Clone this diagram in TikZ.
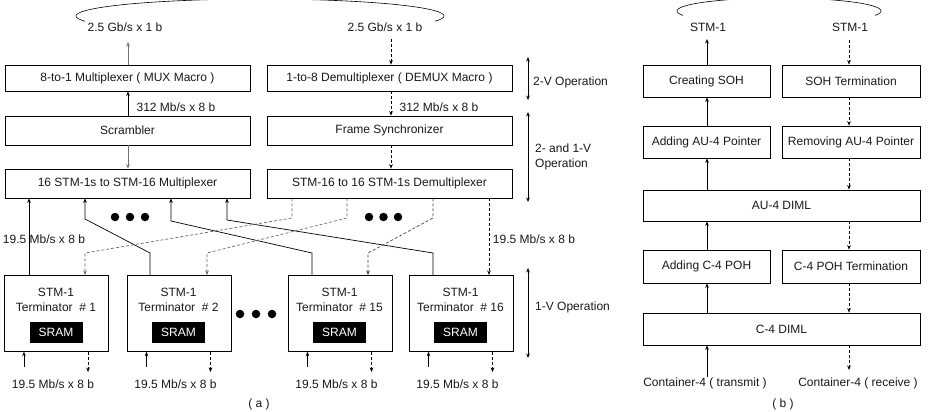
\documentclass[tikz,border=0pt]{standalone}
\usepackage{fontspec}
\setmainfont{Liberation Sans}
\usetikzlibrary{arrows.meta}
\newcommand\figfont{\fontsize{12}{15}\selectfont}
\begin{document}
\begin{tikzpicture}[x=1pt,y=-1pt,
  box/.style={draw, line width=0.7pt, inner sep=0pt, font=\figfont, text=black!90},
  lab/.style={font=\figfont, inner sep=0pt, text=black!90},
  sarr/.style={line width=0.7pt, -{Stealth[length=4.5pt,width=3.6pt]}},
  darr/.style={sarr, dash pattern=on 3pt off 2pt},
  dbl/.style={line width=0.7pt, {Stealth[length=4.5pt,width=3.6pt]}-{Stealth[length=4.5pt,width=3.6pt]}},
  sram/.style={fill=black, text=white, minimum width=53pt, minimum height=21pt, inner sep=0pt, font=\figfont},
  bigdot/.style={circle, fill=black, minimum size=8.5pt, inner sep=0pt},
  arcline/.style={line width=0.6pt}]
\useasboundingbox (0,0) rectangle (932,412);
\clip (0,0) rectangle (932,412);

% ---------------- panel (a) ----------------
\node[box, minimum width=245pt, minimum height=26pt] (mux8) at (127.5,78) {8-to-1 Multiplexer ( MUX Macro )};
\node[box, minimum width=245pt, minimum height=26pt] (dmx8) at (389.5,78) {1-to-8 Demultiplexer ( DEMUX Macro )};
\node[box, minimum width=245pt, minimum height=29pt] (scr) at (127.5,130.5) {Scrambler};
\node[box, minimum width=245pt, minimum height=29pt] (fsy) at (389.5,130.5) {Frame Synchronizer};
\node[box, minimum width=245pt, minimum height=29pt] (mux16) at (127.5,183.5) {16 STM-1s to STM-16 Multiplexer};
\node[box, minimum width=245pt, minimum height=29pt] (dmx16) at (389.5,183.5) {STM-16 to 16 STM-1s Demultiplexer};

\node[lab] (g1) at (125,27) {2.5 Gb/s x 1 b};
\node[lab] (g2) at (385,27) {2.5 Gb/s x 1 b};
\draw[arcline, domain=162:378, samples=80, smooth, variable=\t] plot ({260+184*cos(\t)},{16+17*sin(\t)});
\coordinate (g1a) at (128,42);
\coordinate (g2a) at (391,39);
\draw[sarr, black!55] (128,0 |- mux8.north) -- (g1a);
\draw[darr] (g2a) -- (391,0 |- dmx8.north);

\node[lab] (r1) at (176,107) {312 Mb/s x 8 b};
\node[lab] (r2) at (439,107) {312 Mb/s x 8 b};
\draw[sarr] (128,0 |- scr.north) -- (128,0 |- mux8.south);
\draw[darr] (391,0 |- dmx8.south) -- (391,0 |- fsy.north);
\draw[sarr, black!55] (128,0 |- scr.south) -- (128,0 |- mux16.north);
\draw[darr] (391,0 |- fsy.south) -- (391,0 |- dmx16.north);

% operation annotations
\coordinate (o1a) at (528,57);  \coordinate (o1b) at (528,100);
\coordinate (o2a) at (528,112); \coordinate (o2b) at (528,202);
\coordinate (o3a) at (528,268); \coordinate (o3b) at (528,358);
\draw[dbl] (o1a) -- (o1b);
\draw[dbl] (o2a) -- (o2b);
\draw[dbl] (o3a) -- (o3b);
\node[lab, anchor=west] (op1) at (533,82) {2-V Operation};
\node[lab, anchor=west, align=left] (op2) at (535,157) {2- and 1-V\\Operation};
\node[lab, anchor=west] (op3) at (535,307) {1-V Operation};

% terminators
\foreach \n/\l in {1/4,2/126.5,15/287.5,16/408.5} {
  \node[box, minimum width=104pt, minimum height=76pt, anchor=north west] (t\n) at (\l,275) {};
  \node[lab, align=center] (tl\n) at (\l+52,299.5) {STM-1\\Terminator~~\# \n};
  \node[sram] (s\n) at (\l+52,332.5) {SRAM};
  \node[lab] (b\n) at (\l+49,384) {19.5 Mb/s x 8 b};
  \coordinate (bi\n) at (\l+20,367);
  \coordinate (bo\n) at (\l+84,372);
  \draw[sarr] (bi\n) -- (bi\n |- t\n.south);
  \draw[darr] (bo\n |- t\n.south) -- (bo\n);
}

% terminator -> multiplexer (solid)
\draw[sarr] (29,0 |- t1.north) -- (29,0 |- mux16.south);
\draw[sarr] (150,0 |- t2.north) -- (150,253) -- (85,219) -- (85,0 |- mux16.south);
\draw[sarr] (312,0 |- t15.north) -- (312,253) -- (171,221) -- (171,0 |- mux16.south);
\draw[sarr] (433,0 |- t16.north) -- (433,253) -- (227,220) -- (227,0 |- mux16.south);
% demultiplexer -> terminators (dashed)
\draw[darr, black!60] (292,0 |- dmx16.south) -- (292,218) -- (85,253) -- (85,0 |- t1.north);
\draw[darr, black!60] (347,0 |- dmx16.south) -- (347,218) -- (207,253) -- (207,0 |- t2.north);
\draw[darr, black!75] (433,0 |- dmx16.south) -- (433,218) -- (368,253) -- (368,0 |- t15.north);
\draw[darr] (489,0 |- dmx16.south) -- (489,0 |- t16.north);

\node[lab] (m1) at (44,239) {19.5 Mb/s x 8 b};
\node[lab] (m2) at (534,239) {19.5 Mb/s x 8 b};

\node[bigdot] (d1) at (115,217) {};
\node[bigdot] (d2) at (130,217) {};
\node[bigdot] (d3) at (145,217) {};
\node[bigdot] (d4) at (369,217) {};
\node[bigdot] (d5) at (383.5,217) {};
\node[bigdot] (d6) at (398,217) {};
\node[bigdot] (d7) at (240,314) {};
\node[bigdot] (d8) at (256,314) {};
\node[bigdot] (d9) at (272,314) {};

\node[lab] (capa) at (259,404) {( a )};

% ---------------- panel (b) ----------------
\node[box, minimum width=127pt, minimum height=32pt] (cs) at (706.5,81) {Creating SOH};
\node[box, minimum width=138pt, minimum height=32pt] (st) at (851,81) {SOH Termination};
\node[box, minimum width=127pt, minimum height=32pt] (ap) at (706.5,142) {Adding AU-4 Pointer};
\node[box, minimum width=138pt, minimum height=32pt] (rp) at (851,142) {Removing AU-4 Pointer};
\node[box, minimum width=277pt, minimum height=31pt] (au) at (781.5,205.5) {AU-4 DIML};
\node[box, minimum width=127pt, minimum height=33pt] (ac) at (706.5,266.5) {Adding C-4 POH};
\node[box, minimum width=138pt, minimum height=33pt] (ct) at (851,266.5) {C-4 POH Termination};
\node[box, minimum width=277pt, minimum height=32pt] (c4) at (781.5,329) {C-4 DIML};

\node[lab] (stm1) at (708,27) {STM-1};
\node[lab] (stm2) at (850,27) {STM-1};
\draw[arcline, domain=160:380, samples=80, smooth, variable=\t] plot ({779+102*cos(\t)},{11+13*sin(\t)});
\coordinate (sa) at (707,39);
\coordinate (sb) at (849,40);
\draw[sarr] (707,0 |- cs.north) -- (sa);
\draw[darr] (sb) -- (849,0 |- st.north);
\draw[sarr] (707,0 |- ap.north) -- (707,0 |- cs.south);
\draw[darr] (849,0 |- st.south) -- (849,0 |- rp.north);
\draw[sarr] (707,0 |- au.north) -- (707,0 |- ap.south);
\draw[darr] (849,0 |- rp.south) -- (849,0 |- au.north);
\draw[sarr] (707,0 |- ac.north) -- (707,0 |- au.south);
\draw[darr] (849,0 |- au.south) -- (849,0 |- ct.north);
\draw[sarr] (707,0 |- c4.north) -- (707,0 |- ac.south);
\draw[darr] (849,0 |- ct.south) -- (849,0 |- c4.north);

\node[lab] (ctx) at (705,383) {Container-4 ( transmit )};
\node[lab] (crx) at (858,383) {Container-4 ( receive )};
\coordinate (ca) at (707,377);
\coordinate (cb) at (849,370);
\draw[sarr] (ca) -- (707,0 |- c4.south);
\draw[darr] (849,0 |- c4.south) -- (cb);

\node[lab] (capb) at (783,404) {( b )};
\end{tikzpicture}
\end{document}
